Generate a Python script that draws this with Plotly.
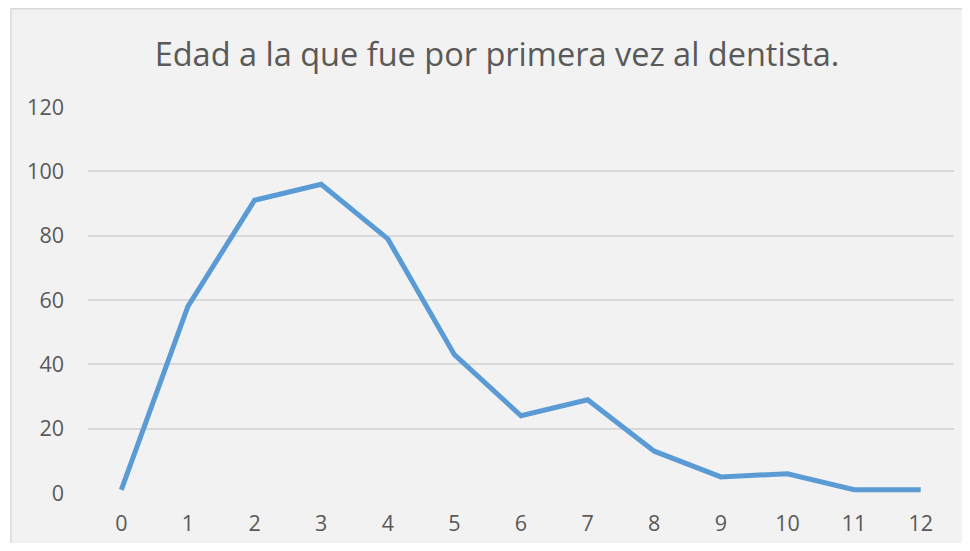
import plotly.graph_objects as go

edades = ["0", "1", "2", "3", "4", "5", "6", "7", "8", "9", "10", "11", "12"]
frecuencia = [1, 58, 91, 96, 79, 43, 24, 29, 13, 5, 6, 1, 1]
y_ticks = [0, 20, 40, 60, 80, 100, 120]
titulo = "Edad a la que fue por primera vez al dentista."

# the page body has an 8px margin, so the figure is drawn smaller
W, H = 962, 535
L, R, T, B = 80, 16, 99, 50
pw, ph = W - L - R, H - T - B

fig = go.Figure()
fig.add_trace(go.Scatter(
    x=edades, y=frecuencia, mode="lines",
    line=dict(color="#5b9bd5", width=5),
    hoverinfo="x+y",
))

def px_to_paper_x(px):
    return (px - L) / pw

def px_to_paper_y(py):
    return (H - B - py) / ph

fig.add_shape(
    type="rect", xref="paper", yref="paper", layer="below",
    x0=px_to_paper_x(3), x1=px_to_paper_x(975),
    y0=px_to_paper_y(560), y1=px_to_paper_y(0.8),
    fillcolor="#f2f2f2", line=dict(color="#d9d9d9", width=1.5),
)

fig.update_layout(
    width=W, height=H,
    margin=dict(l=L, r=R, t=T, b=B),
    paper_bgcolor="white",
    plot_bgcolor="rgba(0,0,0,0)",
    showlegend=False,
    title=dict(
        text=titulo, x=489 / W, xref="container", xanchor="center",
        y=1 - 47 / H, yref="container", yanchor="middle",
        font=dict(family="Open Sans", size=32.5, color="#595959"),
    ),
    font=dict(family="Open Sans", color="#595959"),
)
fig.update_xaxes(
    type="category", range=[-0.5, 12.5], automargin=False,
    showgrid=False, zeroline=False, showline=False,
    ticks="", tickfont=dict(size=21.5, color="#595959"),
    ticklabelstandoff=15,
)
fig.update_yaxes(
    range=[0, 120], tickvals=y_ticks, automargin=False,
    showgrid=True, gridcolor="#d9d9d9", gridwidth=1.5,
    zeroline=False, showline=False, ticks="",
    tickfont=dict(size=21.5, color="#595959"),
    ticklabelstandoff=23,
)

fig.write_html("out.html")
